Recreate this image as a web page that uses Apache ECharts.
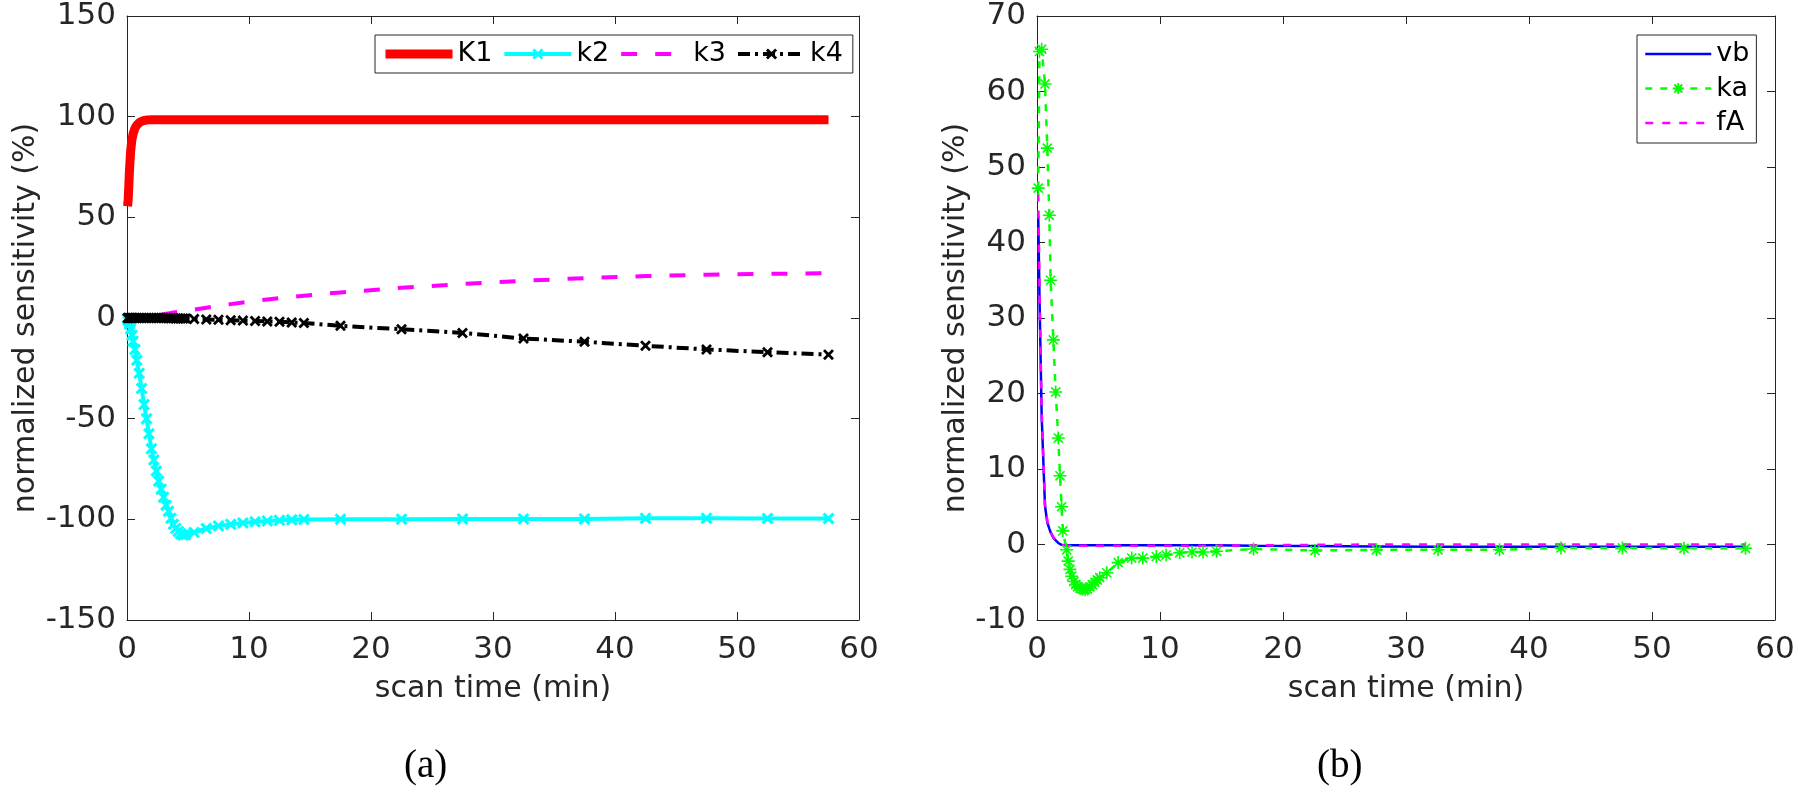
<!DOCTYPE html>
<html>
<head>
<meta charset="utf-8">
<script src="https://cdn.jsdelivr.net/npm/echarts@6/dist/echarts.min.js"></script>
<style>
  html, body { margin: 0; padding: 0; background: #fff; }
  #chart { width: 1800px; height: 797px; }
</style>
</head>
<body>
<div id="chart"></div>
<script>
// panel (a): frame mid times (min) and normalized sensitivities (%)
const timeA = [0.05, 0.1, 0.2, 0.3, 0.4, 0.5, 0.65, 0.8, 1.0, 1.2, 1.4, 1.6, 1.8,
  2.0, 2.2, 2.4, 2.6, 2.8, 3.0, 3.2, 3.4, 3.6, 3.8, 4.0, 4.2, 4.4, 4.6, 4.8,
  5.5, 6.5, 7.5, 8.5, 9.5, 10.5, 11.5, 12.5, 13.5, 14.5,
  17.5, 22.5, 27.5, 32.5, 37.5, 42.5, 47.5, 52.5, 57.5];
const K1 = [55.5, 59, 73, 83, 88.5, 91.5, 94.2, 95.8, 97.0, 97.7, 98.1, 98.3, 98.4,
  98.5, 98.5, 98.5, 98.5, 98.5, 98.5, 98.5, 98.5, 98.5, 98.5, 98.5, 98.5, 98.5, 98.5, 98.5,
  98.5, 98.5, 98.5, 98.5, 98.5, 98.5, 98.5, 98.5, 98.5, 98.5,
  98.5, 98.5, 98.5, 98.5, 98.5, 98.5, 98.5, 98.5, 98.5];
const k2 = [-0.5, -1.5, -3, -5.5, -8.5, -11.5, -15.7, -21, -27.5, -35, -43, -50, -57.5,
  -65, -70.5, -76, -81, -85, -89, -93, -96, -99.5, -102.5, -104.5, -106, -107.2, -107.8, -107.6,
  -106.5, -104.5, -103.3, -102.5, -101.8, -101.2, -100.8, -100.5, -100.2, -100.1,
  -99.9, -99.9, -99.8, -99.8, -99.8, -99.5, -99.5, -99.6, -99.6];
const k3 = [0, 0, 0, 0.1, 0.1, 0.1, 0.2, 0.2, 0.3, 0.4, 0.5, 0.6, 0.8,
  0.9, 1.1, 1.3, 1.5, 1.7, 1.9, 2.1, 2.3, 2.5, 2.7, 2.9, 3.1, 3.3, 3.5, 3.6,
  4.2, 5.1, 6.0, 6.9, 7.7, 8.5, 9.2, 9.9, 10.5, 11.1,
  12.7, 15.0, 16.9, 18.5, 19.8, 20.8, 21.5, 21.9, 22.3];
const k4 = [0, 0, 0, 0, 0, 0, 0, 0, 0, 0, 0, 0, 0,
  0, 0, 0, 0, 0, 0, -0.05, -0.1, -0.1, -0.15, -0.2, -0.2, -0.25, -0.3, -0.3,
  -0.5, -0.7, -0.9, -1.1, -1.3, -1.5, -1.7, -1.9, -2.2, -2.5,
  -3.9, -5.6, -7.4, -10.2, -11.8, -13.8, -15.6, -17.0, -18.2];

// panel (b)
const timeB = [0.1, 0.2, 0.38, 0.65, 0.84, 1.0, 1.11, 1.33, 1.52, 1.73, 1.87, 2.0, 2.1,
  2.41, 2.54, 2.68, 2.82, 3.0, 3.15, 3.3, 3.5, 3.7, 3.9, 4.1, 4.3, 4.5, 4.7, 4.9, 5.1,
  5.67, 6.6, 7.7, 8.6, 9.7, 10.5, 11.6, 12.6, 13.5, 14.6,
  17.6, 22.6, 27.6, 32.6, 37.6, 42.6, 47.6, 52.6, 57.6];
const vb = [43.5, 33, 17, 5.1, 2.9, 2.1, 1.6, 0.9, 0.55, 0.2, 0.05, -0.05, -0.1,
  -0.1, -0.1, -0.1, -0.1, -0.1, -0.1, -0.1, -0.1, -0.1, -0.1, -0.1, -0.1, -0.1, -0.1, -0.1, -0.1,
  -0.1, -0.1, -0.1, -0.1, -0.1, -0.1, -0.1, -0.1, -0.1, -0.1,
  -0.15, -0.2, -0.25, -0.3, -0.3, -0.3, -0.3, -0.3, -0.3];
const ka = [47.2, 65.3, 65.6, 61.0, 52.5, 43.6, 35.0, 27.1, 20.2, 14.1, 9.1, 5.0, 1.8,
  -0.7, -2.2, -3.3, -4.2, -4.9, -5.3, -5.6, -5.8, -5.9, -6.0, -5.9, -5.6, -5.3, -5.0, -4.7, -4.4,
  -3.75, -2.4, -1.8, -1.8, -1.6, -1.4, -1.1, -1.0, -1.0, -0.9,
  -0.6, -0.8, -0.7, -0.7, -0.7, -0.45, -0.45, -0.5, -0.5];
const fA = [46.5, 34, 17.5, 5.3, 3.1, 2.1, 1.6, 1.0, 0.55, 0.25, 0.1, 0, -0.05,
  -0.15, -0.15, -0.15, -0.15, -0.15, -0.15, -0.15, -0.15, -0.15, -0.15, -0.15, -0.15, -0.15, -0.15, -0.15, -0.15,
  -0.15, -0.15, -0.15, -0.15, -0.15, -0.15, -0.15, -0.15, -0.15, -0.15,
  -0.1, -0.05, 0, 0, 0, 0, 0, 0, 0];

const FONT = 'DejaVu Sans';
const INK = '#262626';
const CROSS = 'path://M0,1.8L1.8,0L5,3.2L8.2,0L10,1.8L6.8,5L10,8.2L8.2,10L5,6.8L1.8,10L0,8.2L3.2,5Z';
const STAR = 'path://M5,0L5,10M0,5L10,5M1.5,1.5L8.5,8.5M8.5,1.5L1.5,8.5';

function pairs(t, v) {
  return t.map((x, i) => [x, v[i]]);
}

// bottom/left axes carry labels, top/right only ticks (matlab box)
function xAxes(grid) {
  const base = {
    gridIndex: grid, type: 'value', min: 0, max: 60, interval: 10,
    axisLine: { onZero: false, lineStyle: { color: INK, width: 1 } },
    axisTick: { inside: true, length: 8, lineStyle: { color: INK } },
    splitLine: { show: false },
  };
  return [
    Object.assign({}, base, {
      position: 'bottom',
      axisLabel: { fontSize: 31, color: INK, fontFamily: FONT, margin: 14 },
      name: 'scan time (min)', nameLocation: 'middle', nameGap: 54,
      nameTextStyle: { fontSize: 30, color: INK, fontFamily: FONT },
    }),
    Object.assign({}, base, { position: 'top', axisLabel: { show: false } }),
  ];
}
function yAxes(grid, min, max, step, gap) {
  const base = {
    gridIndex: grid, type: 'value', min: min, max: max, interval: step,
    axisLine: { onZero: false, lineStyle: { color: INK, width: 1 } },
    axisTick: { inside: true, length: 8, lineStyle: { color: INK } },
    splitLine: { show: false },
  };
  return [
    Object.assign({}, base, {
      position: 'left',
      axisLabel: { fontSize: 31, color: INK, fontFamily: FONT, margin: 11 },
      name: 'normalized sensitivity (%)', nameLocation: 'middle', nameGap: gap,
      nameTextStyle: { fontSize: 30, color: INK, fontFamily: FONT },
    }),
    Object.assign({}, base, { position: 'right', axisLabel: { show: false } }),
  ];
}

function line(name, xi, yi, data, color, width, dash, symbol, size) {
  return {
    name: name, type: 'line', xAxisIndex: xi, yAxisIndex: yi,
    data: data,
    symbol: symbol || 'none', symbolSize: size || 0, showAllSymbol: true,
    lineStyle: { color: color, width: width, type: dash || 'solid' },
    itemStyle: { color: color, borderColor: color, borderWidth: symbol === STAR ? 1.6 : 0 },
    emphasis: { disabled: true },
  };
}

// legend entry: keep the series line width, hide the marker when there is none
function entry(name, width, marker) {
  const item = { name: name, lineStyle: { width: width } };
  if (!marker) item.itemStyle = { opacity: 0 };
  return item;
}

const legendText = { fontSize: 27, color: '#000', fontFamily: FONT, lineHeight: 30 };

const option = {
  animation: false,
  backgroundColor: '#fff',
  grid: [
    { left: 127, top: 16, width: 732, height: 604 },
    { left: 1037, top: 16, width: 738, height: 604 },
  ],
  xAxis: xAxes(0).concat(xAxes(1)),
  yAxis: yAxes(0, -150, 150, 50, 86).concat(yAxes(1, -10, 70, 10, 66)),
  legend: [
    {
      data: [entry('K1', 9), entry('k2', 4, true), entry('k3', 4), entry('k4', 4, true)],
      orient: 'horizontal',
      left: 375, top: 35, itemWidth: 67, itemHeight: 14, itemGap: 10,
      padding: [4, 10, 4, 6], borderColor: INK, borderWidth: 1,
      textStyle: legendText, selectedMode: false,
    },
    {
      data: [entry('vb', 2.5), entry('ka', 2.5, true), entry('fA', 2.5)],
      orient: 'vertical',
      left: 1637, top: 35, itemWidth: 66, itemHeight: 14, itemGap: 4.5,
      padding: [4, 7, 5, 7], borderColor: INK, borderWidth: 1,
      textStyle: legendText, selectedMode: false,
    },
  ],
  title: [
    { text: '(a)', left: 404, top: 747, padding: 0,
      textStyle: { fontFamily: 'Liberation Serif', fontSize: 39, fontWeight: 'normal', color: '#000' } },
    { text: '(b)', left: 1317, top: 747, padding: 0,
      textStyle: { fontFamily: 'Liberation Serif', fontSize: 39, fontWeight: 'normal', color: '#000' } },
  ],
  series: [
    line('K1', 0, 0, pairs(timeA, K1), '#ff0000', 9),
    line('k2', 0, 0, pairs(timeA, k2), '#00ffff', 4, 'solid', CROSS, 12),
    line('k3', 0, 0, pairs(timeA, k3), '#ff00ff', 4, [16, 18]),
    line('k4', 0, 0, pairs(timeA, k4), '#000000', 4, [12, 5, 3, 5], CROSS, 11),
    line('vb', 2, 2, pairs(timeB, vb), '#0000ff', 2.5),
    line('ka', 2, 2, pairs(timeB, ka), '#00ff00', 2.5, [7, 8], STAR, 13),
    line('fA', 2, 2, pairs(timeB, fA), '#ff00ff', 2.5, [8, 9]),
  ],
};

const chart = echarts.init(document.getElementById('chart'), null, { renderer: 'canvas' });
chart.setOption(option);
</script>
</body>
</html>
